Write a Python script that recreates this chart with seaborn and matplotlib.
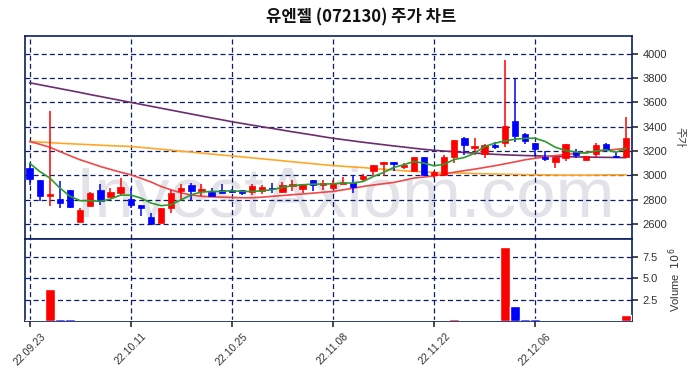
import numpy as np
import pandas as pd
import seaborn as sns
import matplotlib
matplotlib.use("Agg")
import matplotlib.pyplot as plt
from matplotlib.ticker import FuncFormatter

# --- data (60 trading days) ---
opens = [3059, 2963, 2827, 2807, 2878, 2614, 2745, 2878, 2821, 2857,
         2807, 2758, 2657, 2608, 2731, 2873, 2917, 2867, 2859, 2881,
         2881, 2878, 2859, 2867, 2897, 2859, 2908, 2889, 2963, 2919,
         2895, 2930, 2936, 2968, 3031, 3094, 3108, 3067, 3031, 3151,
         2998, 3004, 3154, 3304, 3228, 3176, 3250, 3269, 3449, 3337,
         3263, 3154, 3113, 3140, 3195, 3127, 3173, 3255, 3162, 3154]
closes = [2969, 2827, 2848, 2769, 2736, 2717, 2857, 2786, 2862, 2906,
          2753, 2731, 2603, 2734, 2857, 2897, 2867, 2889, 2832, 2854,
          2862, 2854, 2914, 2900, 2887, 2922, 2930, 2930, 2922, 2936,
          2936, 2947, 2903, 2990, 3086, 3108, 3094, 3086, 3146, 3004,
          3023, 3146, 3290, 3250, 3241, 3250, 3236, 3405, 3323, 3282,
          3217, 3132, 3154, 3255, 3165, 3159, 3250, 3209, 3154, 3304]
highs = [3094, 2963, 3528, 2949, 2878, 2731, 2862, 2930, 2892, 2977,
         2892, 2758, 2690, 2734, 2881, 2927, 2936, 2927, 2895, 2930,
         2890, 2880, 2930, 2922, 2936, 2944, 2963, 2930, 2963, 2963,
         2963, 2985, 2998, 3012, 3086, 3108, 3108, 3099, 3146, 3151,
         3031, 3168, 3290, 3312, 3304, 3255, 3277, 3945, 3787, 3345,
         3263, 3203, 3154, 3255, 3214, 3159, 3269, 3269, 3195, 3476]
lows = [2922, 2786, 2750, 2731, 2731, 2614, 2745, 2758, 2821, 2827,
        2731, 2668, 2603, 2608, 2690, 2794, 2799, 2827, 2827, 2850,
        2855, 2835, 2840, 2846, 2854, 2854, 2867, 2854, 2867, 2881,
        2895, 2930, 2854, 2941, 2990, 2990, 3031, 3050, 3031, 3004,
        2977, 2990, 3099, 3168, 3168, 3140, 3214, 3230, 3277, 3258,
        3159, 3119, 3058, 3119, 3140, 3121, 3140, 3195, 3140, 3154]
volumes = [150000, 160000, 3730000, 280000, 200000, 140000, 150000, 130000, 140000, 130000,
           125000, 130000, 150000, 140000, 160000, 130000, 125000, 130000, 125000, 120000,
           125000, 120000, 140000, 125000, 120000, 130000, 135000, 125000, 120000, 125000,
           130000, 125000, 130000, 140000, 150000, 130000, 125000, 130000, 150000, 140000,
           130000, 160000, 230000, 150000, 130000, 140000, 125000, 8730000, 1710000, 220000,
           180000, 150000, 140000, 150000, 130000, 125000, 150000, 130000, 125000, 750000]

ma_green = [3099, 3031, 2977, 2895, 2827, 2791, 2791, 2786, 2805, 2837,
            2837, 2813, 2772, 2750, 2758, 2799, 2840, 2862, 2867, 2867,
            2873, 2867, 2867, 2873, 2881, 2900, 2914, 2922, 2927, 2927,
            2930, 2936, 2936, 2949, 2990, 3023, 3064, 3086, 3113, 3099,
            3078, 3090, 3130, 3146, 3181, 3236, 3263, 3282, 3296, 3304,
            3304, 3277, 3230, 3203, 3192, 3181, 3200, 3209, 3189, 3222]
ma_red = [3277, 3255, 3230, 3195, 3160, 3127, 3100, 3072, 3048, 3025,
          3004, 2975, 2945, 2908, 2880, 2854, 2838, 2827, 2822, 2820,
          2818, 2815, 2815, 2820, 2827, 2833, 2840, 2846, 2853, 2860,
          2867, 2880, 2894, 2908, 2920, 2930, 2941, 2958, 2977, 2985,
          2995, 3010, 3025, 3038, 3050, 3064, 3078, 3094, 3110, 3127,
          3140, 3150, 3162, 3170, 3179, 3187, 3196, 3205, 3213, 3222]
ma_orange = [3277, 3273, 3269, 3263, 3259, 3255, 3251, 3247, 3243, 3240,
             3236, 3229, 3222, 3214, 3206, 3198, 3190, 3182, 3174, 3166,
             3159, 3151, 3143, 3135, 3127, 3119, 3111, 3103, 3095, 3087,
             3080, 3074, 3068, 3063, 3055, 3049, 3043, 3037, 3031, 3027,
             3023, 3021, 3019, 3017, 3014, 3012, 3010, 3008, 3007, 3005,
             3004, 3003, 3002, 3001, 3001, 3001, 3002, 3003, 3003, 3004]
ma_purple = [3760, 3744, 3728, 3712, 3696, 3680, 3663, 3647, 3631, 3615,
             3599, 3583, 3567, 3551, 3535, 3519, 3503, 3487, 3471, 3456,
             3440, 3426, 3412, 3398, 3385, 3371, 3357, 3344, 3331, 3317,
             3304, 3293, 3282, 3271, 3261, 3251, 3241, 3232, 3222, 3213,
             3205, 3199, 3193, 3187, 3182, 3177, 3172, 3168, 3165, 3162,
             3160, 3157, 3155, 3153, 3151, 3149, 3148, 3147, 3146, 3145]

tick_idx = [0, 10, 20, 30, 40, 50]
tick_labels = ['22.09.23', '22.10.11', '22.10.25', '22.11.08', '22.11.22', '22.12.06']

df = pd.DataFrame({'open': opens, 'close': closes, 'high': highs, 'low': lows,
                   'volume': volumes, 'ma5': ma_green, 'ma20': ma_red,
                   'ma60': ma_orange, 'ma120': ma_purple})
df['x'] = np.arange(len(df))
up = df['close'] >= df['open']
colors = np.where(up, '#ff0000', '#0000ff')

sns.set_theme(style="white")
plt.rcParams['font.family'] = ['Liberation Sans', 'Noto Sans CJK KR']

navy = '#0b1f66'
fig = plt.figure(figsize=(6.91, 3.78), dpi=100)
ax = fig.add_axes([0.0355, 0.368, 0.8795, 0.536])
axv = fig.add_axes([0.0355, 0.151, 0.8795, 0.217], sharex=ax)

# watermark
ax.text(0.527, 0.11, 'InvestAxiom.com', transform=ax.transAxes, ha='center', va='baseline',
        fontsize=51, color='#e2e2e8', family='Liberation Sans', zorder=0, clip_on=True)

# candles
body_bottom = np.minimum(df['open'], df['close'])
body_h = (df['open'] - df['close']).abs().clip(lower=4)
ax.vlines(df['x'], df['low'], df['high'], colors=colors, linewidth=1.1, zorder=3)
ax.bar(df['x'], body_h, bottom=body_bottom, width=0.62, color=colors,
       edgecolor=colors, linewidth=0.5, zorder=4)

# moving averages
sns.lineplot(data=df, x='x', y='ma120', ax=ax, color='#6b2d6e', linewidth=1.2, zorder=2)
sns.lineplot(data=df, x='x', y='ma60', ax=ax, color='#ffa726', linewidth=1.2, zorder=2)
sns.lineplot(data=df, x='x', y='ma20', ax=ax, color='#f04848', linewidth=1.2, zorder=2)
sns.lineplot(data=df, x='x', y='ma5', ax=ax, color='#2e9a2e', linewidth=1.2, zorder=5)

ax.set_xlim(-0.5, 59.6)
ax.set_ylim(2477, 4142)
ax.set_yticks(np.arange(2600, 4001, 200))
ax.set_xticks(tick_idx)
ax.yaxis.tick_right()
ax.yaxis.set_label_position('right')
ax.set_ylabel('주가', rotation=270, labelpad=12, fontsize=8, color='#333333',
              family=['Noto Sans CJK KR'])
ax.set_xlabel('')
ax.tick_params(axis='x', labelbottom=False, length=0)
ax.tick_params(axis='y', labelsize=8, colors='#333333', length=4, direction='out',
               right=True, left=False)

# volume
axv.bar(df['x'], df['volume'], width=1.0, color=colors, zorder=3)
axv.set_ylim(0, 9.65e6)
axv.set_yticks([2.5e6, 5.0e6, 7.5e6])
axv.yaxis.set_major_formatter(FuncFormatter(lambda v, p: f'{v / 1e6:.1f}'))
axv.yaxis.tick_right()
axv.yaxis.set_label_position('right')
axv.set_ylabel('Volume  $10^6$', fontsize=8, color='#333333', labelpad=6)
axv.set_xticks(tick_idx)
axv.set_xticklabels(tick_labels, rotation=45, ha='center')
axv.tick_params(axis='x', labelsize=7.5, colors='#333333', length=4, bottom=True)
axv.tick_params(axis='y', labelsize=8, colors='#333333', length=4, right=True, left=False)
axv.set_xlabel('')

for a in (ax, axv):
    a.grid(True, color=navy, linestyle=(0, (4, 2.5)), linewidth=0.9)
    a.set_axisbelow(True)
    for s in a.spines.values():
        s.set_color(navy)
        s.set_linewidth(1.2)

fig.text(0.522, 0.955, '유엔젤 (072130) 주가 차트', ha='center', va='center', fontsize=12,
         family=['Noto Sans CJK KR'], fontweight='bold', color='#111111')

fig.savefig('out.png', dpi=100)
